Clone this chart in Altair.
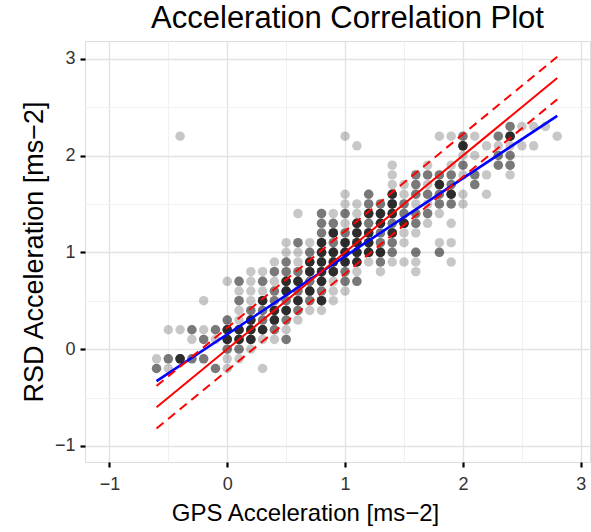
import altair as alt
import pandas as pd

# ---- point cloud, one list per RSD row: (GPS acceleration, number of overlapping observations)
rsd_rows = [2.3, 2.2, 2.1, 2.0, 1.9, 1.8, 1.7, 1.6, 1.5, 1.4, 1.3, 1.2, 1.1, 1.0,
            0.9, 0.8, 0.7, 0.6, 0.5, 0.4, 0.3, 0.2, 0.1, 0.0, -0.1, -0.2]
row_2_3 = [(2.4, 3), (2.5, 1), (2.6, 1), (2.7, 1)]
row_2_2 = [(-0.4, 1), (1.0, 1), (1.8, 1), (1.9, 1), (2.0, 3), (2.1, 1), (2.3, 3), (2.4, 7), (2.8, 1)]
row_2_1 = [(1.1, 1), (2.0, 7), (2.2, 1), (2.3, 1), (2.4, 1), (2.5, 1), (2.6, 1)]
row_2_0 = [(2.0, 1), (2.1, 1), (2.3, 3), (2.4, 3)]
row_1_9 = [(1.4, 1), (1.7, 1), (1.9, 1), (2.0, 3), (2.3, 3), (2.4, 3)]
row_1_8 = [(1.4, 1), (1.6, 3), (1.7, 3), (1.8, 3), (1.9, 3), (2.0, 1), (2.1, 3), (2.2, 1), (2.4, 1)]
row_1_7 = [(1.4, 1), (1.5, 1), (1.6, 3), (1.7, 1), (1.8, 7), (1.9, 3), (2.1, 3)]
row_1_6 = [(1.0, 1), (1.2, 3), (1.4, 7), (1.5, 1), (1.6, 3), (1.7, 3), (1.8, 3), (1.9, 7), (2.0, 1), (2.2, 1)]
row_1_5 = [(1.0, 1), (1.1, 1), (1.2, 3), (1.3, 3), (1.4, 7), (1.5, 3), (1.6, 1), (1.7, 1), (1.8, 3), (1.9, 3), (2.0, 1)]
row_1_4 = [(0.6, 1), (0.8, 3), (0.9, 1), (1.0, 3), (1.1, 1), (1.2, 7), (1.3, 7), (1.4, 7), (1.5, 3), (1.6, 3), (1.7, 3), (1.8, 1)]
row_1_3 = [(0.8, 3), (0.9, 3), (1.0, 1), (1.1, 7), (1.2, 3), (1.3, 7), (1.4, 3), (1.5, 7), (1.6, 3), (1.7, 1), (1.9, 1)]
row_1_2 = [(0.8, 3), (0.9, 7), (1.0, 3), (1.1, 7), (1.2, 7), (1.3, 3), (1.4, 7), (1.5, 1), (1.6, 1)]
row_1_1 = [(0.5, 1), (0.6, 3), (0.7, 1), (0.8, 7), (0.9, 3), (1.0, 7), (1.1, 7), (1.2, 7), (1.3, 3), (1.4, 3), (1.5, 1), (1.8, 1), (1.9, 1)]
row_1_0 = [(0.5, 1), (0.6, 1), (0.7, 3), (0.8, 7), (0.9, 7), (1.0, 7), (1.1, 7), (1.2, 7), (1.3, 7), (1.4, 3), (1.6, 3), (1.8, 3)]
row_0_9 = [(0.4, 1), (0.5, 3), (0.6, 1), (0.7, 7), (0.8, 7), (0.9, 7), (1.0, 7), (1.1, 7), (1.2, 1), (1.3, 3), (1.4, 1), (1.5, 1), (1.6, 1), (1.9, 1)]
row_0_8 = [(0.2, 1), (0.3, 1), (0.4, 3), (0.5, 3), (0.6, 3), (0.7, 7), (0.8, 7), (0.9, 7), (1.0, 3), (1.1, 1), (1.3, 1), (1.6, 1)]
row_0_7 = [(0.0, 1), (0.1, 3), (0.2, 1), (0.3, 3), (0.4, 1), (0.5, 7), (0.6, 7), (0.7, 3), (0.8, 7), (0.9, 1), (1.0, 3), (1.1, 3)]
row_0_6 = [(0.1, 1), (0.2, 1), (0.3, 1), (0.4, 3), (0.5, 7), (0.6, 3), (0.7, 7), (0.8, 3), (0.9, 1), (1.0, 1)]
row_0_5 = [(-0.2, 1), (0.1, 3), (0.2, 1), (0.3, 7), (0.4, 3), (0.5, 3), (0.6, 7), (0.7, 3), (0.8, 7), (0.9, 1)]
row_0_4 = [(0.1, 1), (0.2, 3), (0.3, 3), (0.4, 7), (0.5, 7), (0.6, 3), (0.7, 1), (0.8, 1)]
row_0_3 = [(0.0, 3), (0.1, 1), (0.2, 7), (0.3, 3), (0.4, 7), (0.5, 3), (0.6, 1)]
row_0_2 = [(-0.5, 1), (-0.4, 1), (-0.3, 3), (-0.2, 1), (-0.1, 3), (0.0, 7), (0.1, 7), (0.2, 7), (0.3, 7), (0.4, 3), (0.5, 1)]
row_0_1 = [(-0.3, 1), (-0.2, 3), (-0.1, 1), (0.0, 7), (0.1, 7), (0.2, 7), (0.3, 1), (0.4, 1), (0.5, 3)]
row_0_0 = [(0.0, 3), (0.1, 3), (0.2, 1)]
row_m0_1 = [(-0.6, 1), (-0.5, 3), (-0.4, 7), (-0.3, 3), (-0.2, 3), (0.0, 1), (0.1, 1)]
row_m0_2 = [(-0.6, 3), (-0.5, 1), (-0.1, 3), (0.0, 1), (0.3, 1)]
row_lists = [row_2_3, row_2_2, row_2_1, row_2_0, row_1_9, row_1_8, row_1_7, row_1_6, row_1_5,
             row_1_4, row_1_3, row_1_2, row_1_1, row_1_0, row_0_9, row_0_8, row_0_7, row_0_6,
             row_0_5, row_0_4, row_0_3, row_0_2, row_0_1, row_0_0, row_m0_1, row_m0_2]

# ---- reference lines (endpoints)
line_x = [-0.6, 2.8]
identity_y = [-0.6, 2.8]
upper_y = [-0.38, 3.02]
lower_y = [-0.82, 2.58]
fit_y = [-0.33, 2.41]

# ---- axes
tick_values = [-1, -0.5, 0, 0.5, 1, 1.5, 2, 2.5, 3]

records = []
for yv, row in zip(rsd_rows, row_lists):
    for xv, n in row:
        for _ in range(n):
            records.append({"x": xv, "y": yv})
pts = pd.DataFrame(records)

lines = pd.DataFrame(
    [{"x": x, "y": y, "g": "identity"} for x, y in zip(line_x, identity_y)]
    + [{"x": x, "y": y, "g": "upper"} for x, y in zip(line_x, upper_y)]
    + [{"x": x, "y": y, "g": "lower"} for x, y in zip(line_x, lower_y)]
    + [{"x": x, "y": y, "g": "fit"} for x, y in zip(line_x, fit_y)]
)

FONT = "Liberation Sans"
is_major = "abs(datum.value - round(datum.value)) < 0.001"


def axis(title, **kw):
    return alt.Axis(
        title=title,
        values=tick_values,
        format="~g",
        labelExpr=f"{is_major} ? datum.label : ''",
        tickOpacity={"condition": {"test": is_major, "value": 1}, "value": 0},
        gridColor={"condition": {"test": is_major, "value": "#e3e3e3"}, "value": "#f1f1f1"},
        gridWidth={"condition": {"test": is_major, "value": 1.4}, "value": 1.0},
        domain=False,
        tickColor="black",
        tickWidth=2.2,
        tickSize=5,
        labelFont=FONT,
        labelFontSize=18,
        labelColor="#333333",
        titleFont=FONT,
        titleFontWeight="normal",
        titleColor="black",
        **kw,
    )


xs = alt.Scale(domain=[-1.207, 3.078], nice=False, zero=False)
ys = alt.Scale(domain=[-1.166, 3.183], nice=False, zero=False)

points = alt.Chart(pts).mark_circle(size=90, color="black", opacity=0.22).encode(
    x=alt.X("x:Q", scale=xs, axis=axis("GPS Acceleration [ms−2]", labelPadding=8,
                                       titlePadding=8, titleFontSize=24, titleX=220)),
    y=alt.Y("y:Q", scale=ys, axis=axis("RSD Acceleration [ms−2]", labelPadding=5,
                                       titlePadding=6, titleFontSize=27)),
)

fit = alt.Chart(lines[lines.g == "fit"]).mark_line(color="#0000ff", strokeWidth=2.6).encode(
    x=alt.X("x:Q", scale=xs), y=alt.Y("y:Q", scale=ys))
ident = alt.Chart(lines[lines.g == "identity"]).mark_line(color="#ff0000", strokeWidth=2).encode(
    x=alt.X("x:Q", scale=xs), y=alt.Y("y:Q", scale=ys))
bands = alt.Chart(lines[lines.g.isin(["upper", "lower"])]).mark_line(
    color="#ff0000", strokeWidth=2, strokeDash=[9, 6]).encode(
    x=alt.X("x:Q", scale=xs), y=alt.Y("y:Q", scale=ys), detail="g:N")

chart = alt.layer(points, fit, ident, bands).properties(
    width=505,
    height=421,
    padding={"left": 85, "top": 41, "right": 1, "bottom": 70},
    autosize=alt.AutoSizeParams(type="none"),
    title=alt.TitleParams("Acceleration Correlation Plot", font=FONT, fontSize=31,
                          fontWeight="normal", color="black", anchor="middle", offset=6, dx=10),
).configure_view(stroke="#7f7f7f", strokeWidth=1.2, fill="white").configure(background="white")

chart.save("out.html", embed_options={"renderer": "svg", "actions": False})
